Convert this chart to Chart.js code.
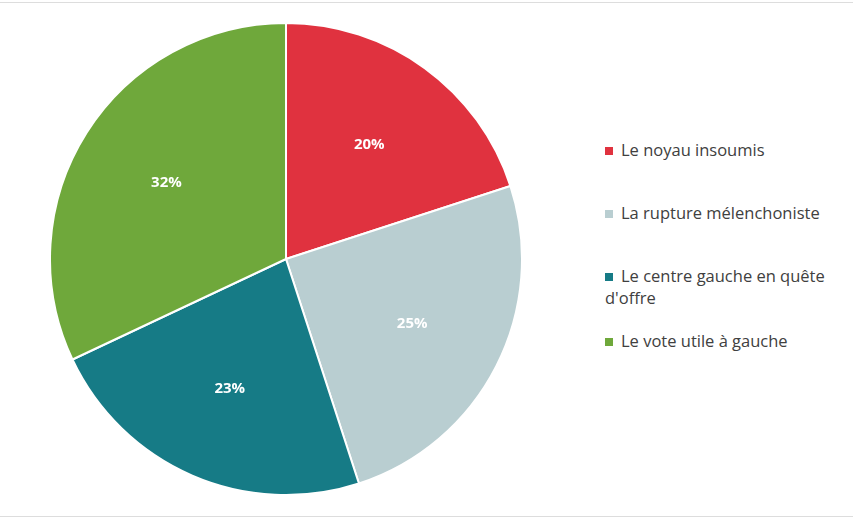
<!DOCTYPE html>
<html><head><meta charset="utf-8">
<script src="https://cdn.jsdelivr.net/npm/chart.js@4"></script>
<style>
body{margin:0;background:#fff;width:853px;height:521px;overflow:hidden;position:relative;font-family:"Open Sans",Calibri,sans-serif}
#wrap{position:absolute;left:49px;top:22px;width:474px;height:474px}
.top{position:absolute;left:0;top:2px;width:853px;height:1px;background:#ddd}
.bot{position:absolute;left:0;top:516px;width:853px;height:1px;background:#ddd}
.leg{position:absolute;left:605px;font-size:16.5px;color:#404040;line-height:22px;white-space:nowrap}
.leg span{display:inline-block;width:8px;height:8px;margin-right:8px;vertical-align:1px}
</style></head><body>
<div class="top"></div><div class="bot"></div>
<div id="wrap"><canvas id="c"></canvas></div>
<div id="legend"></div>
<script>
const categories=["Le noyau insoumis","La rupture mélenchoniste","Le centre gauche en quête d'offre","Le vote utile à gauche"];
const values=[20,25,23,32];
const colors=["#E0323F","#B9CED1","#167B86","#6FA83B"];
const legendTop=[139,202,265,330];
const lg=document.getElementById('legend');
categories.forEach((c,i)=>{const d=document.createElement('div');d.className='leg';d.style.top=legendTop[i]+'px';
 const t=i===2?"Le centre gauche en quête<br>d'offre":c;
 d.innerHTML='<span style="background:'+colors[i]+'"></span>'+t;lg.appendChild(d);});
const labelPlugin={id:'lbl',afterDatasetsDraw(ch){const ctx=ch.ctx;const meta=ch.getDatasetMeta(0);
 ctx.save();ctx.fillStyle='#fff';ctx.font='bold 15px "Open Sans",sans-serif';ctx.textAlign='center';ctx.textBaseline='middle';
 meta.data.forEach((a,i)=>{const m=(a.startAngle+a.endAngle)/2;const r=a.outerRadius*0.6;
  ctx.fillText(values[i]+'%',a.x+Math.cos(m)*r,a.y+Math.sin(m)*r);});ctx.restore();}};
new Chart(document.getElementById('c'),{type:'pie',data:{labels:categories,datasets:[{data:values,backgroundColor:colors,borderColor:'#fff',borderWidth:2}]},
 options:{responsive:true,maintainAspectRatio:false,animation:false,layout:{padding:0},plugins:{legend:{display:false},tooltip:{enabled:false}}},plugins:[labelPlugin]});
</script></body></html>
